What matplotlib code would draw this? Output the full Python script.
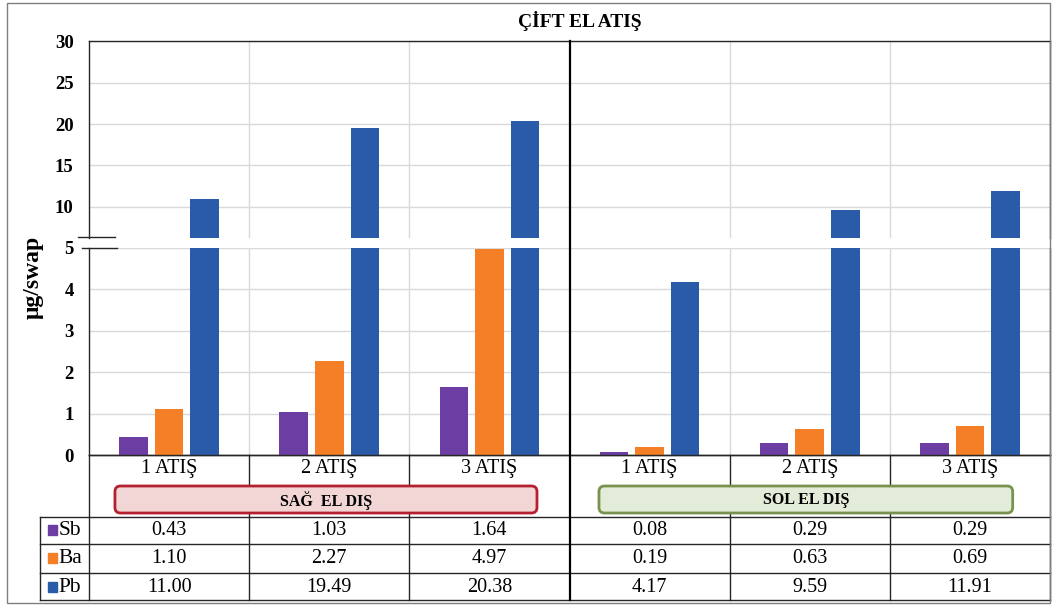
import matplotlib
matplotlib.use("Agg")
import matplotlib.pyplot as plt
from matplotlib.lines import Line2D
from matplotlib.patches import FancyBboxPatch, Rectangle
import matplotlib.transforms as mtransforms
import numpy as np

plt.rcParams['font.family'] = ['Liberation Serif', 'DejaVu Serif']

# ---- data ----
title = 'ÇİFT EL ATIŞ'
ylabel = 'μg/swap'
categories = ['1 ATIŞ', '2 ATIŞ', '3 ATIŞ', '1 ATIŞ', '2 ATIŞ', '3 ATIŞ']
groups = ['SAĞ  EL DIŞ', 'SOL EL DIŞ']
series_names = ['Sb', 'Ba', 'Pb']
sb = [0.43, 1.03, 1.64, 0.08, 0.29, 0.29]
ba = [1.10, 2.27, 4.97, 0.19, 0.63, 0.69]
pb = [11.00, 19.49, 20.38, 4.17, 9.59, 11.91]
upper_ticks = [10, 15, 20, 25, 30]
lower_ticks = [0, 1, 2, 3, 4, 5]

colors = ['#6c3ea3', '#f47f26', '#2a5ba8']
series = [sb, ba, pb]

W, H = 1052, 606
fig = plt.figure(figsize=(W / 100, H / 100), dpi=100)


def fx(px):
    return px / W


def fy(py):
    return 1 - py / H


left, right = 89, 1050
top_up, bot_up = 41.3, 237.5
top_lo, bot_lo = 248, 455
tbl_bot = 600

ax_up = fig.add_axes([fx(left), fy(bot_up), (right - left) / W, (bot_up - top_up) / H])
ax_lo = fig.add_axes([fx(left), fy(bot_lo), (right - left) / W, (bot_lo - top_lo) / H])
ax_tb = fig.add_axes([fx(left), fy(tbl_bot), (right - left) / W, (tbl_bot - bot_lo) / H])

x = np.arange(len(categories))
offsets = [-0.222, 0.0, 0.222]
bw = 0.178
grid_c = '#d9d9d9'
dark = '#262626'

for ax, lim, ticks in [(ax_up, (6.3, 30), upper_ticks), (ax_lo, (0, 5), lower_ticks)]:
    for vals, off, col in zip(series, offsets, colors):
        ax.bar(x + off, vals, width=bw, color=col, zorder=3)
    ax.set_xlim(-0.5, len(categories) - 0.5)
    ax.set_ylim(*lim)
    ax.set_yticks(ticks)
    ax.set_yticklabels([str(t) for t in ticks], fontweight='bold', fontsize=13.5)
    ax.set_xticks([])
    ax.tick_params(axis='y', length=0, pad=11)
    for t in ticks:
        ax.axhline(t, color=grid_c, lw=1, zorder=1)
    for b in [0.5, 1.5, 3.5, 4.5]:
        ax.axvline(b, color=grid_c, lw=1, zorder=1)
    for s in ax.spines.values():
        s.set_color(dark)
        s.set_linewidth(1)

ax_up.spines['bottom'].set_visible(False)
ax_lo.spines['top'].set_visible(False)

# group separator running through chart and table
tr = mtransforms.blended_transform_factory(ax_lo.transData, fig.transFigure)
fig.add_artist(Line2D([2.5, 2.5], [fy(top_up), fy(tbl_bot)], transform=tr,
                      color='black', lw=1.6, zorder=5))

# axis break marks
for (x0, x1, yy) in [(78, 115, 237.3), (81.7, 117, 248.3)]:
    fig.add_artist(Line2D([fx(x0), fx(x1)], [fy(yy), fy(yy)], color=dark, lw=1))

# ---- data table below the chart ----
ax_tb.set_xlim(-0.5, len(categories) - 0.5)
ax_tb.set_ylim(tbl_bot - bot_lo, 0)
ax_tb.axis('off')
row_lines = [61.7, 89.3, 118.3, 145]
leg_left = -0.806
for yy in row_lines:
    ax_tb.plot([leg_left, 5.5], [yy, yy], color=dark, lw=1, clip_on=False)
ax_tb.plot([leg_left, leg_left], [61.7, 145], color=dark, lw=1, clip_on=False)
for b in [-0.5, 0.5, 1.5, 3.5, 4.5, 5.5]:
    ax_tb.plot([b, b], [0, 145], color=dark, lw=1, clip_on=False)
ax_tb.plot([-0.5, 5.5], [0, 0], color=dark, lw=1, clip_on=False)

for i, c in enumerate(categories):
    ax_tb.text(i, 14, c, ha='center', va='center', fontsize=14.5)

px_per_unit = (right - left) / len(categories)
box_specs = [
    (-0.338, 2.297, '#f2d6d6', '#b5202e'),
    (2.684, 5.267, '#e3ecd8', '#77934f'),
]
for (bx0, bx1, fc, ec), name in zip(box_specs, groups):
    patch = FancyBboxPatch((bx0, 31), bx1 - bx0, 27,
                           boxstyle='round,pad=0,rounding_size=0.035',
                           mutation_aspect=px_per_unit,
                           fc=fc, ec=ec, lw=2, zorder=4, clip_on=False)
    ax_tb.add_patch(patch)
    ax_tb.text((bx0 + bx1) / 2, 45, name, ha='center', va='center',
               fontsize=11.5, fontweight='bold', zorder=5)

row_centers = [75.5, 103.8, 132.5]
for name, vals, col, yc in zip(series_names, series, colors, row_centers):
    ax_tb.add_patch(Rectangle((-0.758, yc - 5.5), 0.06, 9.6, color=col, clip_on=False))
    ax_tb.text(-0.692, yc, name, ha='left', va='center', fontsize=15.5)
    for i, v in enumerate(vals):
        ax_tb.text(i, yc, f'{v:.2f}', ha='center', va='center', fontsize=14.5)

# ---- title, axis label, outer frame ----
fig.text(fx(580), fy(21), title, ha='center', va='center', fontsize=14, fontweight='bold')
fig.text(fx(33), fy(277), ylabel, ha='center', va='center', rotation=90,
         fontsize=17, fontweight='bold')
fig.add_artist(Rectangle((fx(7), fy(603)), fx(1050) - fx(7), (603 - 3) / H,
                         transform=fig.transFigure, fill=False, ec='#7f7f7f', lw=1))

fig.savefig('out.png', dpi=100)
